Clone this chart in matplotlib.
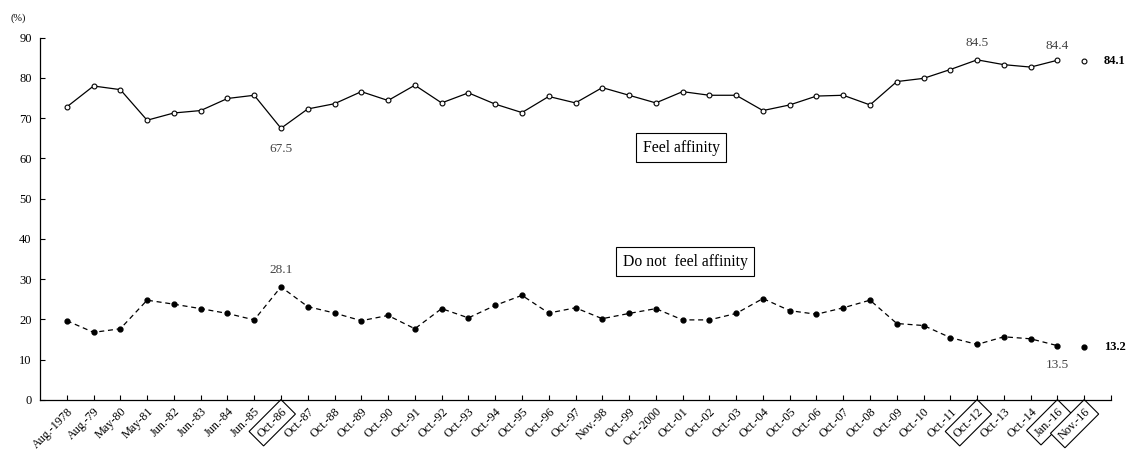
import matplotlib
matplotlib.use("Agg")
import matplotlib.pyplot as plt
import numpy as np

plt.rcParams['font.family'] = ['Liberation Serif', 'DejaVu Serif']

categories = ["Aug.-1978", "Aug.-79", "May-80", "May-81", "Jun.-82", "Jun.-83", "Jun.-84",
              "Jun.-85", "Oct.-86", "Oct.-87", "Oct.-88", "Oct.-89", "Oct.-90", "Oct.-91",
              "Oct.-92", "Oct.-93", "Oct.-94", "Oct.-95", "Oct.-96", "Oct.-97", "Nov.-98",
              "Oct.-99", "Oct.-2000", "Oct.-01", "Oct.-02", "Oct.-03", "Oct.-04", "Oct.-05",
              "Oct.-06", "Oct.-07", "Oct.-08", "Oct.-09", "Oct.-10", "Oct.-11", "Oct.-12",
              "Oct.-13", "Oct.-14", "Jan.-16", "Nov.-16"]

feel = [72.8, 78.0, 77.1, 69.5, 71.3, 71.9, 74.9, 75.7, 67.5, 72.3, 73.6, 76.6,
        74.4, 78.2, 73.8, 76.3, 73.5, 71.4, 75.4, 73.8, 77.6, 75.7, 73.8, 76.6,
        75.7, 75.7, 71.9, 73.3, 75.5, 75.7, 73.3, 79.1, 79.9, 82.1, 84.5, 83.3,
        82.7, 84.4, 84.1]

not_feel = [19.7, 16.8, 17.7, 24.8, 23.8, 22.7, 21.5, 19.9, 28.1, 23.2, 21.6, 19.7,
            21.0, 17.7, 22.7, 20.4, 23.5, 26.0, 21.6, 22.9, 20.2, 21.5, 22.7, 19.9,
            19.9, 21.5, 25.2, 22.2, 21.3, 22.9, 24.8, 19.0, 18.5, 15.5, 13.8, 15.7,
            15.2, 13.5, 13.2]

boxed_labels = ["Oct.-86", "Oct.-12", "Jan.-16", "Nov.-16"]

W, H = 1131, 453
fig = plt.figure(figsize=(W / 100, H / 100), dpi=100)
ax = fig.add_axes([40 / W, 1 - 400 / H, (1111 - 40) / W, (400 - 37.7) / H])

x = np.arange(len(categories))
n = len(categories)

ax.plot(x[:-1], feel[:-1], color='black', lw=0.9, marker='o', ms=3.5,
        mfc='white', mec='black', mew=0.8)
ax.plot(x[-1:], feel[-1:], ls='none', marker='o', ms=3.5,
        mfc='white', mec='black', mew=0.8)
ax.plot(x[:-1], not_feel[:-1], color='black', lw=0.9, ls=(0, (4, 3)), marker='o',
        ms=3.5, mfc='black', mec='black')
ax.plot(x[-1:], not_feel[-1:], ls='none', marker='o', ms=3.5, mfc='black', mec='black')

ax.set_xlim(-1, n)
ax.set_ylim(0, 90)
ax.set_yticks(range(0, 91, 10))
ax.set_xticks(x)
ax.set_xticks([n], minor=True)
ax.set_xticklabels(categories, rotation=45, ha='right', rotation_mode='anchor',
                   fontsize=8.7)
ax.tick_params(axis='x', which='both', direction='in', length=3.5, width=0.8, pad=4)
ax.tick_params(axis='y', direction='in', length=3.5, width=0.8, labelsize=9, pad=6)
for s in ['top', 'right']:
    ax.spines[s].set_visible(False)
for s in ['left', 'bottom']:
    ax.spines[s].set_linewidth(0.9)

for lab in ax.get_xticklabels():
    if lab.get_text() in boxed_labels:
        lab.set_bbox(dict(boxstyle='square,pad=0.35', fc='white', ec='black', lw=0.8))

ann_color = '#444444'
def ann(i, vals, dy):
    ax.annotate(f"{vals[i]:.1f}", (x[i], vals[i]), xytext=(0, dy), textcoords='offset points',
                ha='center', va='center', fontsize=9.5, color=ann_color)

ann(8, feel, -15)
ann(34, feel, 12)
ann(37, feel, 10)
ann(8, not_feel, 12)
ann(37, not_feel, -14)

ax.annotate(f"{feel[-1]:.1f}", (x[-1], feel[-1]), xytext=(14, 0), textcoords='offset points',
            ha='left', va='center', fontsize=9, fontweight='bold')
ax.annotate(f"{not_feel[-1]:.1f}", (x[-1], not_feel[-1]), xytext=(14, 0), textcoords='offset points',
            ha='left', va='center', fontsize=9, fontweight='bold')

ax.text(22.95, 62.7, "Feel affinity", ha='center', va='center', fontsize=11.3,
        bbox=dict(boxstyle='square,pad=0.4', fc='white', ec='black', lw=0.8))
ax.text(23.09, 34.4, "Do not  feel affinity", ha='center', va='center', fontsize=11.3,
        bbox=dict(boxstyle='square,pad=0.4', fc='white', ec='black', lw=0.8))

fig.text(18 / W, 1 - 18 / H, "(%)", ha='center', va='center', fontsize=7.5)

fig.savefig("out.png", dpi=100)
